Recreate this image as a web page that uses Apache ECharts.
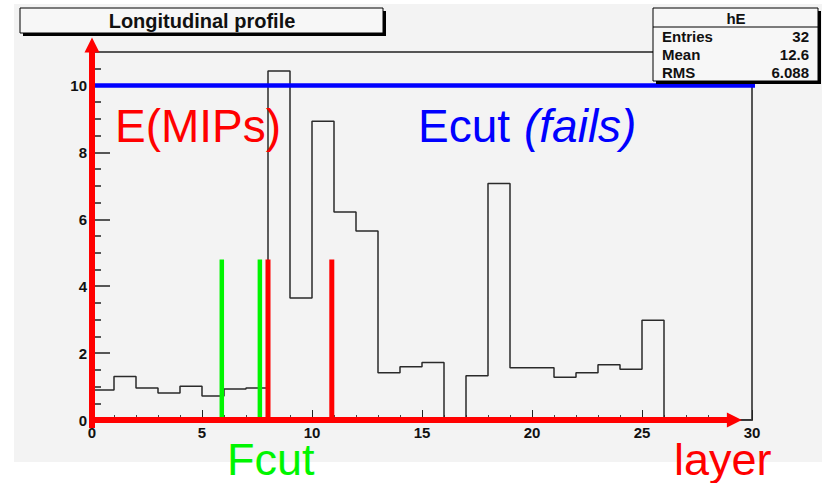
<!DOCTYPE html>
<html>
<head>
<meta charset="utf-8">
<title>Longitudinal profile</title>
<script src="https://cdn.jsdelivr.net/npm/echarts@6/dist/echarts.min.js"></script>
<style>
  html, body { margin: 0; padding: 0; background: #ffffff; }
  #chart { width: 826px; height: 483px; }
</style>
</head>
<body>
<div id="chart"></div>
<script>
// Energy deposited per layer (MIPs), one value per layer bin 0..29
const layers = [0,1,2,3,4,5,6,7,8,9,10,11,12,13,14,15,16,17,18,19,20,21,22,23,24,25,26,27,28,29];
const energy = [0.90,1.30,0.96,0.81,1.01,0.72,0.93,0.96,10.43,3.65,8.93,6.22,5.65,1.41,1.59,1.72,0.00,1.32,7.07,1.56,1.56,1.28,1.41,1.65,1.52,2.98,0.00,0.00,0.00,0.00];

// Axis ticks
const xMajorTicks = [0, 5, 10, 15, 20, 25, 30];
const yMajorTicks = [0, 2, 4, 6, 8, 10];
const yMinorTicks = [0.5, 1, 1.5, 2.5, 3, 3.5, 4.5, 5, 5.5, 6.5, 7, 7.5, 8.5, 9, 9.5, 10.5];

// Cut markers (layer positions) and the energy threshold
const fcutLayers = [5.9, 7.63];
const layerCutLayers = [8.0, 10.9];
const cutTop = 4.8;
const ecutLevel = 10;
const ecutSpan = [-0.77, 30.4];

// Annotation arrows along the axes
const yArrow = [[0, -0.24], [0, 11.21]];
const xArrow = [[0, 0], [29.2, 0]];

// Statistics box
const statsTitle = 'hE';
const statsLabels = ['Entries', 'Mean', 'RMS'];
const statsValues = ['32', '12.6', '6.088'];

const FONT = "'Liberation Sans', Arial, Helvetica, sans-serif";
const RED = '#ff0000';
const GREEN = '#00f500';
const BLUE = '#0000ff';

// Histogram outline as a step line over the bin edges
const histPoints = [[layers[0], 0]];
layers.forEach((l, i) => histPoints.push([l, energy[i]]));
histPoints.push([layers[layers.length - 1] + 1, energy[energy.length - 1]]);

function vLine(x, color, width) {
  return {
    type: 'line', xAxisIndex: 0, yAxisIndex: 0, silent: true, clip: false,
    symbol: 'none', z: 5,
    lineStyle: { color: color, width: width, cap: 'butt' },
    data: [[x, 0], [x, cutTop]]
  };
}

function bigText(str, x, y, color, italic, size) {
  return {
    type: 'text', z: 22, x: x, y: y,
    style: { text: str, fill: color, font: (italic ? 'italic ' : '') + size + 'px ' + FONT,
      lineHeight: 36, textAlign: 'left', textVerticalAlign: 'middle' }
  };
}

const chart = echarts.init(document.getElementById('chart'), null, { renderer: 'svg', width: 826, height: 483 });

const statsGraphics = [];
statsLabels.forEach((lab, i) => {
  statsGraphics.push({
    type: 'text', x: 662, y: 36 + i * 18.3, z: 21,
    style: { text: lab, fill: '#111', font: 'bold 15px ' + FONT, textAlign: 'left', textVerticalAlign: 'middle' }
  });
  statsGraphics.push({
    type: 'text', x: 809, y: 36 + i * 18.3, z: 21,
    style: { text: statsValues[i], fill: '#111', font: 'bold 15px ' + FONT, textAlign: 'right', textVerticalAlign: 'middle' }
  });
});

const option = {
  animation: false,
  backgroundColor: '#ffffff',
  grid: {
    left: 92, right: 74, top: 52, bottom: 63,
    show: true, borderColor: '#555555', borderWidth: 2, backgroundColor: 'transparent'
  },
  xAxis: {
    type: 'value', min: 0, max: 30, interval: 5,
    axisLine: { show: false },
    axisTick: { show: true, inside: true, length: 10, lineStyle: { color: '#222', width: 1 } },
    minorTick: { show: true, splitNumber: 5, length: 5, lineStyle: { color: '#444', width: 1 } },
    splitLine: { show: false },
    axisLabel: { margin: 5, color: '#111', fontFamily: FONT, fontWeight: 'bold', fontSize: 15, lineHeight: 14,
      formatter: v => (xMajorTicks.indexOf(v) >= 0 ? String(v) : '') }
  },
  yAxis: [
    {
      type: 'value', min: 0, max: 11, position: 'left',
      axisLine: { show: false },
      axisTick: { show: true, inside: true, length: 18, customValues: yMajorTicks, lineStyle: { color: '#222', width: 1.5 } },
      axisLabel: { show: true, margin: 5, customValues: yMajorTicks, color: '#111', fontFamily: FONT, fontWeight: 'bold', fontSize: 15 },
      splitLine: { show: false }
    },
    {
      type: 'value', min: 0, max: 11, position: 'left', offset: 0,
      axisLine: { show: false },
      axisTick: { show: true, inside: true, length: 9, customValues: yMinorTicks, lineStyle: { color: '#222', width: 1.5 } },
      axisLabel: { show: false },
      splitLine: { show: false }
    }
  ],
  series: [
    {
      name: 'hE', type: 'line', step: 'end', symbol: 'none', silent: true, z: 3,
      xAxisIndex: 0, yAxisIndex: 0,
      lineStyle: { color: '#2a2a2a', width: 1.5 },
      data: histPoints
    },
    vLine(fcutLayers[0], GREEN, 4.5),
    vLine(fcutLayers[1], GREEN, 4.5),
    vLine(layerCutLayers[0], RED, 5),
    vLine(layerCutLayers[1], RED, 5),
    {
      name: 'Ecut', type: 'line', symbol: 'none', silent: true, clip: false, z: 6,
      xAxisIndex: 0, yAxisIndex: 0,
      lineStyle: { color: BLUE, width: 4.5, cap: 'butt' },
      data: [[ecutSpan[0], ecutLevel], [ecutSpan[1], ecutLevel]]
    },
    {
      name: 'axes', type: 'lines', coordinateSystem: 'cartesian2d', silent: true, clip: false, z: 7,
      xAxisIndex: 0, yAxisIndex: 0,
      symbol: ['none', 'triangle'], symbolSize: 15,
      lineStyle: { color: RED, width: 6, opacity: 1, cap: 'butt' },
      data: [{ coords: yArrow }, { coords: xArrow }]
    }
  ],
  graphic: [
    // pad background
    { type: 'rect', z: -10, silent: true, shape: { x: 14, y: 4, width: 808, height: 458 }, style: { fill: '#f3f3f3' } },
    // title box with shadow
    { type: 'rect', z: 20, shape: { x: 23, y: 11, width: 363, height: 25 }, style: { fill: '#000' } },
    { type: 'rect', z: 20, shape: { x: 20, y: 8, width: 363, height: 25 }, style: { fill: '#f7f7f7', stroke: '#000', lineWidth: 1 } },
    { type: 'text', z: 21, x: 202, y: 21,
      style: { text: 'Longitudinal profile', fill: '#111', font: 'bold 20px ' + FONT, textAlign: 'center', textVerticalAlign: 'middle' } },
    // statistics box with shadow
    { type: 'rect', z: 20, shape: { x: 656, y: 11, width: 165, height: 73 }, style: { fill: '#000' } },
    { type: 'rect', z: 20, shape: { x: 653, y: 8, width: 165, height: 73 }, style: { fill: '#f7f7f7', stroke: '#000', lineWidth: 1 } },
    { type: 'line', z: 21, shape: { x1: 653, y1: 27, x2: 818, y2: 27 }, style: { stroke: '#000', lineWidth: 1 } },
    { type: 'text', z: 21, x: 736, y: 18,
      style: { text: statsTitle, fill: '#111', font: 'bold 15px ' + FONT, textAlign: 'center', textVerticalAlign: 'middle' } },
    ...statsGraphics,
    // slide annotations
    bigText('E(MIPs)', 115, 126, RED, false, 46),
    bigText('Ecut', 418, 126, BLUE, false, 46),
    bigText('(fails)', 524, 126, BLUE, true, 46),
    bigText('Fcut', 227, 459, GREEN, false, 45),
    bigText('layer', 674, 459, RED, false, 45)
  ]
};

chart.setOption(option);
</script>
</body>
</html>
